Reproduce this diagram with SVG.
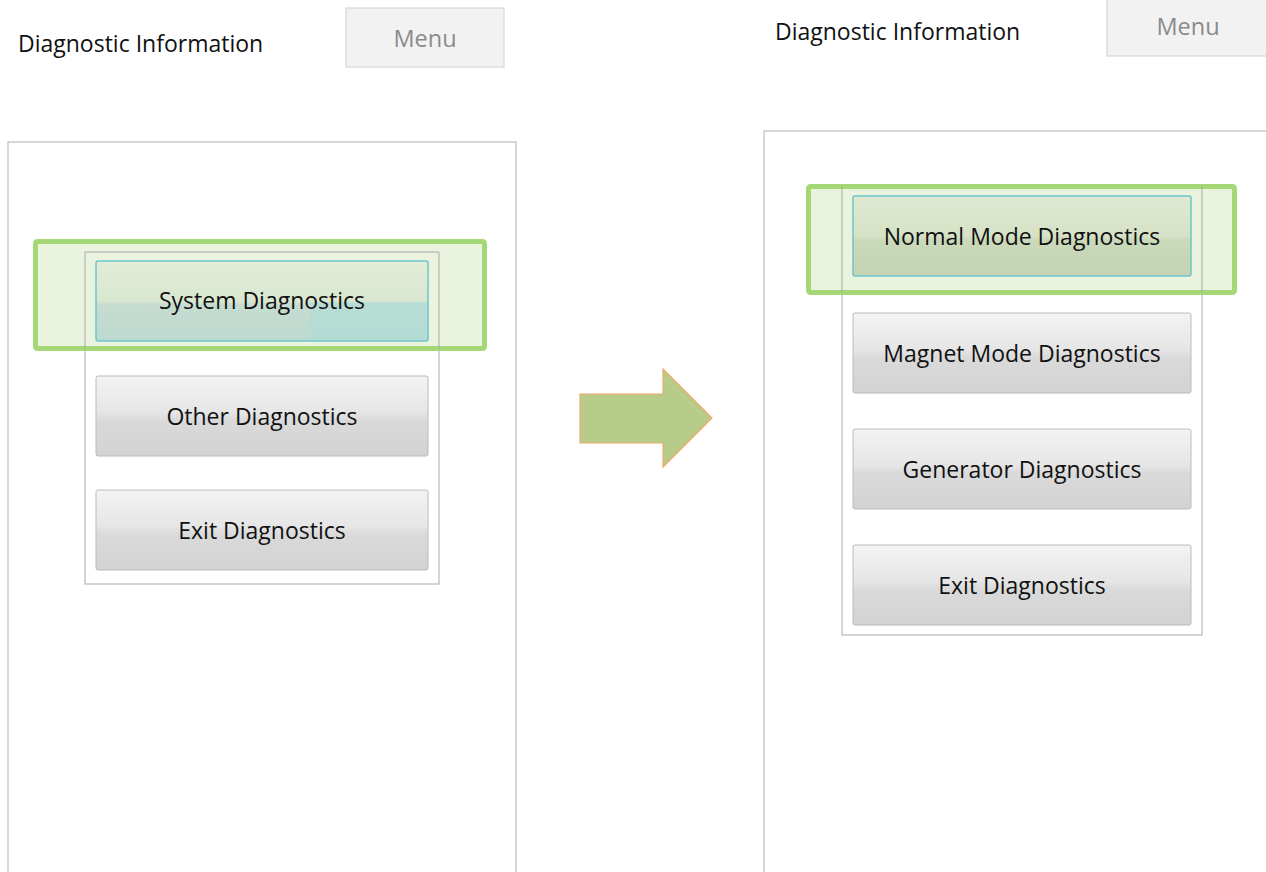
<svg xmlns="http://www.w3.org/2000/svg" width="1266" height="872" viewBox="0 0 1266 872">
<defs>
<linearGradient id="gray" x1="0" y1="0" x2="0" y2="1">
<stop offset="0" stop-color="#f3f3f3"/><stop offset="0.45" stop-color="#e6e6e6"/><stop offset="0.55" stop-color="#dadada"/><stop offset="1" stop-color="#d2d2d2"/>
</linearGradient>
<linearGradient id="selL" x1="0" y1="0" x2="0" y2="1">
<stop offset="0" stop-color="#e2ecd6"/><stop offset="0.5" stop-color="#d9e7d0"/><stop offset="0.55" stop-color="#c6dcd0"/><stop offset="1" stop-color="#bcd9d0"/>
</linearGradient>
<linearGradient id="selR" x1="0" y1="0" x2="0" y2="1">
<stop offset="0" stop-color="#e0e9d2"/><stop offset="0.5" stop-color="#d6e2c6"/><stop offset="0.55" stop-color="#cbd9bb"/><stop offset="1" stop-color="#c5d3b5"/>
</linearGradient>
<style>
.t{font-family:"Open Sans","Noto Sans",sans-serif;fill:#111;}
.title{font-size:23px;}
.btn{font-size:23px;text-anchor:middle;}
.menu{font-family:"Open Sans","Noto Sans",sans-serif;font-size:23.5px;fill:#8a8a8a;text-anchor:middle;}
.panel{fill:#fff;stroke:#bdbdbd;stroke-width:1.2;}
.menubox{fill:#f2f2f2;stroke:#d0d0d0;stroke-width:1;}
.gbtn{fill:url(#gray);stroke:#bcbcbc;stroke-width:1;}
.hl{fill:#eaf3dd;stroke:#a4d775;stroke-width:5;}
.sel{stroke:#6cc6cc;stroke-width:1.5;}
</style>
</defs>
<g id="left-screen">
<text class="t title" x="18" y="52">Diagnostic Information</text>
<g id="left-menu"><rect class="menubox" x="346" y="8" width="158" height="59"/><text class="menu" x="425" y="47">Menu</text></g>
<rect class="panel" x="8" y="142" width="508" height="740"/>
<rect fill="#fff" stroke="#a9a9a9" x="85" y="252" width="354" height="332"/>
<rect class="hl" x="35.5" y="241.5" width="449" height="107" rx="2"/>
<line x1="85" y1="252" x2="439" y2="252" stroke="#a9a9a9"/>
<line x1="85" y1="252" x2="85" y2="349" stroke="#a9a9a9"/>
<line x1="439" y1="252" x2="439" y2="349" stroke="#a9a9a9"/>
<g id="btn-system"><rect class="sel" fill="url(#selL)" x="96" y="261" width="332" height="80" rx="2"/><rect x="310" y="302" width="117" height="38" fill="#b0ddd6" opacity="0.7"/><text class="t btn" x="262" y="309" fill="#1a2a1a">System Diagnostics</text></g>
<g id="btn-other"><rect class="gbtn" x="96" y="376" width="332" height="80" rx="2"/><text class="t btn" x="262" y="425">Other Diagnostics</text></g>
<g id="btn-exit-left"><rect class="gbtn" x="96" y="490" width="332" height="80" rx="2"/><text class="t btn" x="262" y="539">Exit Diagnostics</text></g>
</g>
<g id="connectors">
<polygon points="580,394 663,394 663,369 712,418 663,467 663,443 580,443" fill="#b6cc88" stroke="#f0a868" stroke-width="1.2"/>
</g>
<g id="right-screen">
<text class="t title" x="775" y="40">Diagnostic Information</text>
<g id="right-menu"><rect class="menubox" x="1107" y="-2" width="170" height="58"/><text class="menu" x="1188" y="35">Menu</text></g>
<rect class="panel" x="764" y="131" width="520" height="760"/>
<rect fill="#fff" stroke="#a9a9a9" x="842" y="186" width="360" height="449"/>
<rect class="hl" x="808.5" y="186.5" width="426" height="106" rx="2"/>
<line x1="842" y1="186" x2="842" y2="293" stroke="#a9a9a9"/>
<line x1="1202" y1="186" x2="1202" y2="293" stroke="#a9a9a9"/>
<g id="btn-normal"><rect class="sel" fill="url(#selR)" x="853" y="196" width="338" height="80" rx="2"/><text class="t btn" x="1022" y="245" fill="#1a2a1a">Normal Mode Diagnostics</text></g>
<g id="btn-magnet"><rect class="gbtn" x="853" y="313" width="338" height="80" rx="2"/><text class="t btn" x="1022" y="362">Magnet Mode Diagnostics</text></g>
<g id="btn-generator"><rect class="gbtn" x="853" y="429" width="338" height="80" rx="2"/><text class="t btn" x="1022" y="478">Generator Diagnostics</text></g>
<g id="btn-exit-right"><rect class="gbtn" x="853" y="545" width="338" height="80" rx="2"/><text class="t btn" x="1022" y="594">Exit Diagnostics</text></g>
</g>
</svg>
